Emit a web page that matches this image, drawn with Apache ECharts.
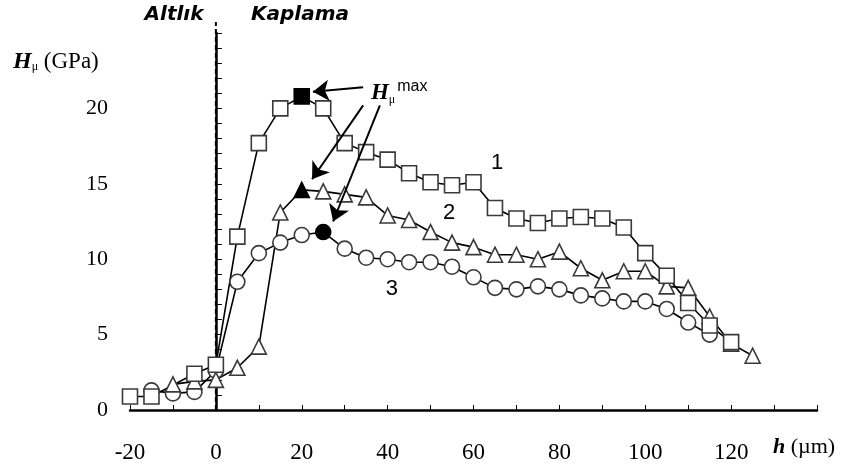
<!DOCTYPE html>
<html>
<head>
<meta charset="utf-8">
<script src="https://cdn.jsdelivr.net/npm/echarts@6/dist/echarts.min.js"></script>
<style>
  html, body { margin: 0; background: #fff; }
  #chart { width: 857px; height: 473px; }
</style>
</head>
<body>
<div id="chart"></div>
<script>
// depth h (µm) and microhardness Hμ (GPa)
const h1 = [-20, -15, -5, 0, 5, 10, 15, 20, 25, 30, 35, 40, 45, 50, 55, 60, 65, 70, 75, 80, 85, 90, 95, 100, 105, 110, 115, 120]
const hv1 = [0.9, 0.9, 2.4, 3.0, 11.5, 17.7, 20.0, 20.8, 20.0, 17.7, 17.1, 16.6, 15.7, 15.1, 14.9, 15.1, 13.4, 12.7, 12.4, 12.7, 12.8, 12.7, 12.1, 10.4, 8.9, 7.1, 5.6, 4.5]

const h2 = [-10, -5, 0, 5, 10, 15, 20, 25, 30, 35, 40, 45, 50, 55, 60, 65, 70, 75, 80, 85, 90, 95, 100, 105, 110, 115, 120, 125]
const hv2 = [1.7, 1.9, 2.0, 2.8, 4.2, 13.1, 14.6, 14.5, 14.3, 14.1, 12.9, 12.6, 11.8, 11.1, 10.8, 10.3, 10.3, 10.0, 10.5, 9.4, 8.6, 9.2, 9.2, 8.2, 8.1, 6.2, 4.4, 3.6]

const h3 = [-15, -10, -5, 0, 5, 10, 15, 20, 25, 30, 35, 40, 45, 50, 55, 60, 65, 70, 75, 80, 85, 90, 95, 100, 105, 110, 115]
const hv3 = [1.3, 1.1, 1.2, 2.6, 8.5, 10.4, 11.1, 11.6, 11.8, 10.7, 10.1, 10.0, 9.8, 9.8, 9.5, 8.8, 8.1, 8.0, 8.2, 8.0, 7.6, 7.4, 7.2, 7.2, 6.7, 5.8, 5.0]

// index of the Hμmax point (filled marker) in each curve
const maxIdx = [7, 6, 8]

// curve number labels [h, Hμ]
const curveLabels = [['1', [65.5, 16.4]], ['2', [54.3, 13.1]], ['3', [41, 8.0]]]

// Hμmax annotation and its arrows (data coords)
const hmaxLabelAt = [42.7, 21.0]
const arrows = [
  [[34.3, 21.4], [22.6, 21.1]],
  [[34.3, 20.2], [22.4, 15.3]],
  [[38.2, 20.2], [27.3, 12.5]],
]

const serif = 'Liberation Serif'
const sans = 'Liberation Sans'

function pts(hs, vs, filled) {
  return hs.map((x, i) => i === filled
    ? { value: [x, vs[i]], itemStyle: { color: '#000', borderColor: '#000' } }
    : [x, vs[i]])
}

function numberLabel(k) {
  const [txt, at] = curveLabels[k]
  return {
    symbol: 'circle',
    symbolSize: 1,
    itemStyle: { color: 'transparent' },
    silent: true,
    label: { show: true, position: 'inside', color: '#000', fontFamily: sans, fontSize: 22 },
    data: [{ coord: at, value: txt, label: { formatter: txt } }],
  }
}

function curve(name, symbol, hs, vs, k) {
  return {
    name,
    type: 'line',
    data: pts(hs, vs, maxIdx[k]),
    symbol,
    symbolSize: 15,
    showAllSymbol: true,
    lineStyle: { color: '#000', width: 1.6 },
    itemStyle: { color: '#fff', borderColor: '#3a3a3a', borderWidth: 1.6 },
    markPoint: numberLabel(k),
    z: 3,
  }
}

const chart = echarts.init(document.getElementById('chart'))

const s1 = curve('1', 'rect', h1, hv1, 0)
s1.markLine = {
  silent: true,
  symbol: ['none', 'arrow'],
  symbolSize: 16,
  label: { show: false },
  lineStyle: { color: '#000', width: 2, type: 'solid' },
  data: arrows.map(a => [{ coord: a[0] }, { coord: a[1] }]),
}
s1.markPoint.data.push({
  coord: hmaxLabelAt,
  value: 'max',
  label: {
    formatter: '{H|H}{mu|μ}{max|max}',
    rich: {
      H: { fontFamily: serif, fontWeight: 'bold', fontStyle: 'italic', fontSize: 23, lineHeight: 30, verticalAlign: 'middle', color: '#000' },
      mu: { fontFamily: serif, fontSize: 12, lineHeight: 30, verticalAlign: 'bottom', color: '#000', padding: [0, 2, 2, 0] },
      max: { fontFamily: sans, fontSize: 16, lineHeight: 30, verticalAlign: 'top', color: '#000' },
    },
  },
})

chart.setOption({
  animation: false,
  grid: { left: 130, right: 40, top: 33, bottom: 63 },
  xAxis: {
    type: 'value',
    min: -20,
    max: 140,
    interval: 10,
    axisLine: { onZero: false, lineStyle: { color: '#000', width: 2.5 } },
    axisTick: { inside: true, length: 5, lineStyle: { color: '#000', width: 1 } },
    splitLine: { show: false },
    axisLabel: {
      formatter: v => (v % 20 === 0 && v < 140 ? String(v) : ''),
      margin: 31,
      color: '#000',
      fontFamily: serif,
      fontSize: 23,
    },
  },
  yAxis: {
    type: 'value',
    min: 0,
    max: 25,
    interval: 1,
    axisLine: { show: true, lineStyle: { color: '#000', width: 2.5 } },
    axisTick: { inside: true, length: 6, lineStyle: { color: '#000', width: 1 } },
    splitLine: { show: false },
    axisLabel: {
      formatter: v => (v % 5 === 0 && v < 25 ? String(v) : ''),
      margin: 22,
      color: '#000',
      fontFamily: serif,
      fontSize: 22,
    },
  },
  series: [
    curve('3', 'circle', h3, hv3, 2),
    curve('2', 'triangle', h2, hv2, 1),
    s1,
  ],
})

// substrate / coating boundary and the static captions
const p0 = chart.convertToPixel({ gridIndex: 0 }, [0, 0])
const p1 = chart.convertToPixel({ gridIndex: 0 }, [0, 25])

chart.setOption({
  graphic: [
    {
      type: 'line',
      shape: { x1: p0[0], y1: p0[1], x2: p1[0], y2: p1[1] - 11 },
      style: { stroke: '#000', lineWidth: 2, lineDash: [5, 3] },
      z: 1,
    },
    {
      type: 'text', x: 174, y: 15,
      style: { text: 'Altlık', align: 'center', verticalAlign: 'middle', fill: '#000',
        font: 'italic bold 20px "DejaVu Sans"' },
    },
    {
      type: 'text', x: 300, y: 15,
      style: { text: 'Kaplama', align: 'center', verticalAlign: 'middle', fill: '#000',
        font: 'italic bold 20px "DejaVu Sans"' },
    },
    {
      type: 'text', x: 13, y: 62,
      style: {
        text: '{H|H}{mu|μ}{t| (GPa)}',
        verticalAlign: 'middle',
        rich: {
          H: { fontFamily: serif, fontWeight: 'bold', fontStyle: 'italic', fontSize: 24, lineHeight: 28, verticalAlign: 'middle', fill: '#000' },
          mu: { fontFamily: serif, fontSize: 12, lineHeight: 28, verticalAlign: 'bottom', fill: '#000', padding: [0, 0, 3, 0] },
          t: { fontFamily: serif, fontSize: 23, lineHeight: 28, verticalAlign: 'middle', fill: '#000' },
        },
      },
    },
    {
      type: 'text', x: 773, y: 447,
      style: {
        text: '{h|h}{t| (µm)}',
        verticalAlign: 'middle',
        rich: {
          h: { fontFamily: serif, fontWeight: 'bold', fontStyle: 'italic', fontSize: 22, fill: '#000' },
          t: { fontFamily: serif, fontSize: 22, fill: '#000' },
        },
      },
    },
  ],
})
</script>
</body>
</html>
